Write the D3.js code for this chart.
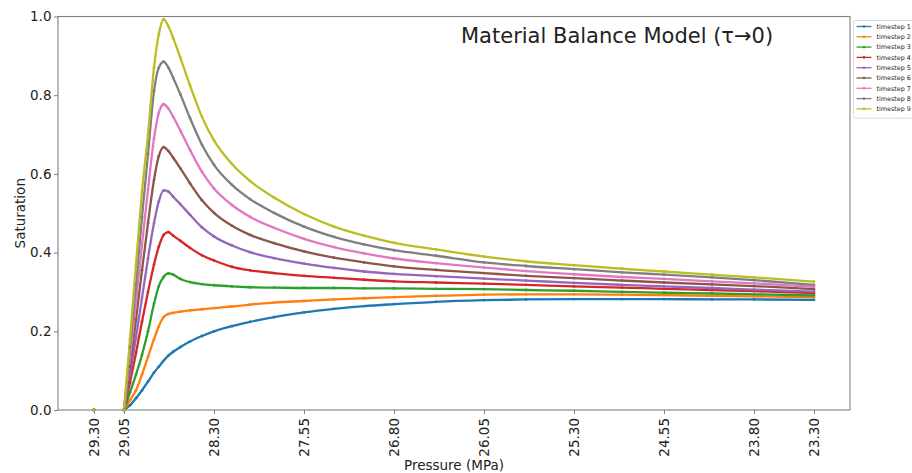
<!DOCTYPE html>
<html>
<head>
<meta charset="utf-8">
<script src="https://cdn.jsdelivr.net/npm/d3@7"></script>
<style>
  html, body { margin: 0; padding: 0; background: #fff; }
  svg { display: block; font-family: "DejaVu Sans", sans-serif; }
</style>
</head>
<body>
<svg id="chart" width="912" height="473"></svg>
<script>
// ---- data ----
const pressure = [29.30, 29.05, 29.00, 28.95, 28.90, 28.85, 28.80, 28.76, 28.72, 28.68, 28.64, 28.58, 28.50, 28.40, 28.30, 28.15, 28.00, 27.80, 27.55, 27.30, 27.05, 26.80, 26.45, 26.05, 25.70, 25.30, 24.90, 24.55, 24.15, 23.80, 23.30];

const timestep1 = [0, 0, 0.012, 0.03, 0.05, 0.072, 0.095, 0.11, 0.125, 0.138, 0.148, 0.16, 0.174, 0.188, 0.2, 0.213, 0.224, 0.236, 0.248, 0.257, 0.264, 0.269, 0.275, 0.279, 0.281, 0.282, 0.282, 0.282, 0.281, 0.281, 0.28];
const timestep2 = [0, 0, 0.025, 0.05, 0.09, 0.135, 0.18, 0.213, 0.236, 0.244, 0.247, 0.25, 0.253, 0.256, 0.259, 0.263, 0.268, 0.273, 0.277, 0.281, 0.284, 0.287, 0.29, 0.293, 0.294, 0.294, 0.293, 0.292, 0.29, 0.289, 0.286];
const timestep3 = [0, 0, 0.045, 0.09, 0.14, 0.2, 0.27, 0.315, 0.338, 0.347, 0.344, 0.333, 0.325, 0.32, 0.317, 0.314, 0.312, 0.311, 0.31, 0.31, 0.309, 0.309, 0.308, 0.307, 0.305, 0.303, 0.3, 0.298, 0.296, 0.294, 0.291];
const timestep4 = [0, 0, 0.07, 0.145, 0.225, 0.3, 0.37, 0.415, 0.445, 0.452, 0.443, 0.43, 0.412, 0.393, 0.38, 0.364, 0.355, 0.348, 0.341, 0.336, 0.331, 0.327, 0.324, 0.321, 0.318, 0.314, 0.311, 0.308, 0.305, 0.302, 0.297];
const timestep5 = [0, 0, 0.09, 0.185, 0.285, 0.385, 0.475, 0.53, 0.558, 0.555, 0.542, 0.523, 0.496, 0.464, 0.441, 0.418, 0.401, 0.386, 0.372, 0.361, 0.352, 0.346, 0.34, 0.334, 0.329, 0.323, 0.318, 0.314, 0.31, 0.306, 0.301];
const timestep6 = [0, 0, 0.11, 0.23, 0.355, 0.475, 0.585, 0.645, 0.668, 0.658, 0.641, 0.614, 0.576, 0.533, 0.501, 0.468, 0.445, 0.424, 0.403, 0.387, 0.375, 0.365, 0.356, 0.348, 0.341, 0.335, 0.329, 0.324, 0.319, 0.315, 0.307];
const timestep7 = [0, 0, 0.135, 0.275, 0.42, 0.56, 0.69, 0.755, 0.777, 0.766, 0.745, 0.71, 0.661, 0.605, 0.563, 0.521, 0.491, 0.463, 0.435, 0.414, 0.398, 0.385, 0.373, 0.362, 0.353, 0.345, 0.338, 0.333, 0.327, 0.322, 0.313];
const timestep8 = [0, 0, 0.16, 0.32, 0.49, 0.65, 0.81, 0.87, 0.885, 0.87, 0.844, 0.802, 0.742, 0.674, 0.623, 0.572, 0.536, 0.501, 0.466, 0.44, 0.421, 0.406, 0.392, 0.375, 0.366, 0.358, 0.35, 0.344, 0.337, 0.33, 0.318];
const timestep9 = [0, 0, 0.18, 0.37, 0.555, 0.7, 0.87, 0.955, 0.993, 0.975, 0.945, 0.895, 0.825, 0.745, 0.685, 0.625, 0.582, 0.54, 0.498, 0.466, 0.443, 0.425, 0.408, 0.39, 0.378, 0.368, 0.359, 0.352, 0.344, 0.337, 0.326];

const seriesNames = ["timestep 1", "timestep 2", "timestep 3", "timestep 4", "timestep 5", "timestep 6", "timestep 7", "timestep 8", "timestep 9"];
const seriesValues = [timestep1, timestep2, timestep3, timestep4, timestep5, timestep6, timestep7, timestep8, timestep9];
const colors = ["#1f77b4", "#ff7f0e", "#2ca02c", "#d62728", "#9467bd", "#8c564b", "#e377c2", "#7f7f7f", "#bcbd22"];

const xTicks = [29.30, 29.05, 28.30, 27.55, 26.80, 26.05, 25.30, 24.55, 23.80, 23.30];
const yTicks = [0.0, 0.2, 0.4, 0.6, 0.8, 1.0];
const titleText = "Material Balance Model (\u03C4\u21920)";
const xLabel = "Pressure (MPa)";
const yLabel = "Saturation";

// ---- layout ----
const svg = d3.select("#chart");
const L = 58, R = 850, T = 16.5, B = 410;
const x = d3.scaleLinear().domain([29.6, 23.0]).range([L, R]);
const y = d3.scaleLinear().domain([0, 1]).range([B, T]);

svg.append("defs").append("clipPath").attr("id", "plotclip")
  .append("rect").attr("x", L).attr("y", T).attr("width", R - L).attr("height", B - T);

const line = d3.line()
  .x(d => x(d[0]))
  .y(d => y(d[1]))
  .curve(d3.curveMonotoneX);

const gLines = svg.append("g").attr("clip-path", "url(#plotclip)");
seriesValues.forEach((vals, i) => {
  // the segment lying on the x axis (before onset) is hidden under the spine in the reference
  const pts = pressure.map((p, j) => [p, vals[j]]).slice(1);
  gLines.append("path")
    .datum(pts)
    .attr("d", line)
    .attr("fill", "none")
    .attr("stroke", colors[i])
    .attr("stroke-width", 2.3)
    .attr("stroke-linejoin", "round");
});

// axes
const axisColor = "#808080";
const gx = svg.append("g").attr("transform", `translate(0,${B})`)
  .call(d3.axisBottom(x).tickValues(xTicks).tickFormat(d3.format(".2f")).tickSizeOuter(0).tickSize(4));
gx.select(".domain").remove();
gx.selectAll(".tick line").attr("stroke", axisColor);
gx.selectAll(".tick text")
  .attr("transform", "rotate(-90)")
  .attr("x", -8).attr("y", 0).attr("dy", "0.35em")
  .attr("text-anchor", "end")
  .attr("font-size", 13.5)
  .attr("font-family", "DejaVu Sans")
  .attr("fill", "#222");

const gy = svg.append("g").attr("transform", `translate(${L},0)`)
  .call(d3.axisLeft(y).tickValues(yTicks).tickFormat(d3.format(".1f")).tickSizeOuter(0).tickSize(4));
gy.select(".domain").remove();
gy.selectAll(".tick line").attr("stroke", axisColor);
gy.selectAll(".tick text")
  .attr("x", -6.5)
  .attr("font-size", 13.5)
  .attr("font-family", "DejaVu Sans")
  .attr("fill", "#222");

// spines
svg.append("rect").attr("x", L).attr("y", T).attr("width", R - L).attr("height", B - T)
  .attr("fill", "none").attr("stroke", axisColor).attr("stroke-width", 1.1);

// markers
seriesValues.forEach((vals, i) => {
  svg.append("g").selectAll("circle")
    .data(pressure.map((p, j) => [p, vals[j]]))
    .join("circle")
    .attr("cx", d => x(d[0]))
    .attr("cy", d => y(d[1]))
    .attr("r", 1.4)
    .attr("fill", colors[i]);
});

// labels
svg.append("text").attr("x", (L + R) / 2).attr("y", 470)
  .attr("text-anchor", "middle").attr("font-size", 13.5).attr("fill", "#222").text(xLabel);
svg.append("text").attr("transform", `translate(25,${(T + B) / 2}) rotate(-90)`)
  .attr("text-anchor", "middle").attr("font-size", 13.5).attr("fill", "#222").text(yLabel);
svg.append("text").attr("x", 461).attr("y", 43)
  .attr("font-size", 21).attr("fill", "#222").text(titleText);

// legend
const lg = svg.append("g");
const lgX = 853.5, lgY = 20.5, rowH = 10.3;
lg.append("rect").attr("x", lgX).attr("y", lgY).attr("width", 80).attr("height", rowH * seriesNames.length + 5)
  .attr("rx", 2).attr("fill", "#fff").attr("fill-opacity", 0.8).attr("stroke", "#d0d0d0").attr("stroke-width", 0.8);
seriesNames.forEach((name, i) => {
  const cy = lgY + 6 + i * rowH;
  lg.append("line").attr("x1", lgX + 3).attr("x2", lgX + 18).attr("y1", cy).attr("y2", cy)
    .attr("stroke", colors[i]).attr("stroke-width", 1.3);
  lg.append("circle").attr("cx", lgX + 10.5).attr("cy", cy).attr("r", 1.3).attr("fill", colors[i]);
  lg.append("text").attr("x", lgX + 23).attr("y", cy).attr("dy", "0.35em")
    .attr("font-size", 6.4).attr("fill", "#222").text(name);
});
</script>
</body>
</html>
